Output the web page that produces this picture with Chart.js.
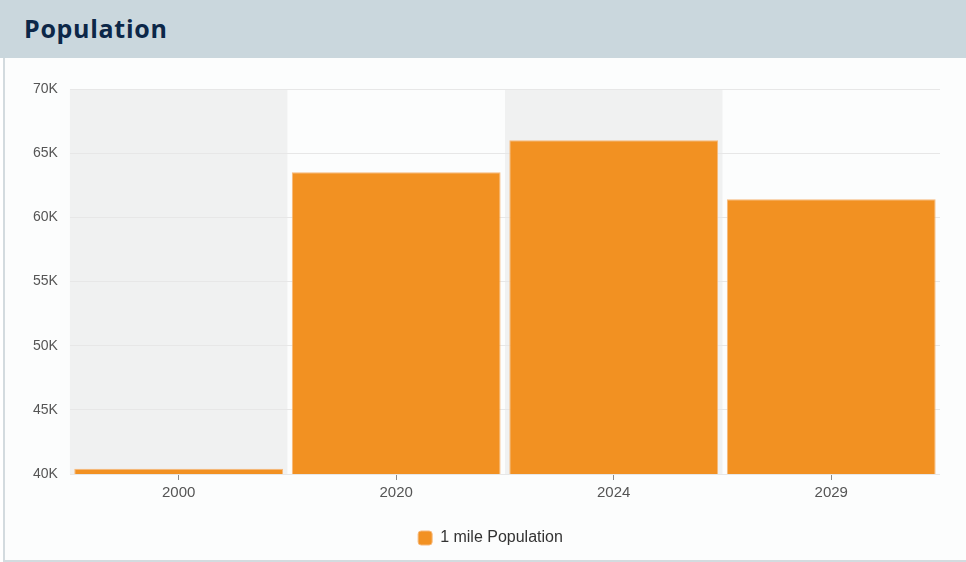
<!DOCTYPE html>
<html>
<head>
<meta charset="utf-8">
<script src="https://cdn.jsdelivr.net/npm/chart.js@4"></script>
<style>
    html, body { margin: 0; padding: 0; background: #ffffff; }
    .header {
        height: 58px;
        background: #cad7dd;
        box-sizing: border-box;
        padding: 0 0 0 24px;
        line-height: 57px;
        font-family: 'Open Sans', sans-serif;
        font-weight: 700;
        font-size: 25px;
        letter-spacing: 0.7px;
        color: #0c2748;
    }
    .panel {
        position: relative;
        width: 963px;
        height: 502px;
        margin-left: 3px;
        border-left: 2px solid #d3dbdf;
        border-bottom: 2px solid #d3dbdf;
        background: #fcfdfd;
    }
    .panel canvas { position: absolute; left: 0; top: 0; }
</style>
</head>
<body>
<div class="header">Population</div>
<div class="panel"><canvas id="popChart" width="961" height="502"></canvas></div>
<script>
const years = ['2000', '2020', '2024', '2029'];
const population = [40400, 63520, 66010, 61410];
const seriesName = '1 mile Population';

document.addEventListener("DOMContentLoaded", function () {
    const ctx = document.getElementById('popChart').getContext('2d');

    // grey bands behind every other year
    const bands = {
        id: 'bands',
        beforeDraw(chart) {
            const { ctx, chartArea, scales: { x } } = chart;
            const step = x.width / years.length;
            ctx.save();
            ctx.fillStyle = '#f0f1f1';
            years.forEach((y, i) => {
                if (i % 2 !== 0) return;
                const cx = x.getPixelForValue(i);
                ctx.fillRect(cx - step / 2, chartArea.top, step, chartArea.bottom - chartArea.top);
            });
            ctx.restore();
        }
    };

    // nudge the legend so it sits under the middle of the whole panel
    const legendShift = {
        id: 'legendShift',
        afterUpdate(chart) {
            chart.legend.left += 10;
            chart.legend.right += 10;
        }
    };

    new Chart(ctx, {
        type: 'bar',
        data: {
            labels: years,
            datasets: [{
                label: seriesName,
                data: population,
                backgroundColor: '#f29122',
                borderColor: '#f6b87a',
                borderWidth: 1,
                barPercentage: 0.96,
                categoryPercentage: 1
            }]
        },
        options: {
            responsive: false,
            animation: false,
            layout: { padding: { left: 16, right: 26, top: 31, bottom: 4 } },
            scales: {
                x: {
                    grid: { offset: false, drawOnChartArea: false, drawTicks: true, tickLength: 6, color: '#8a8a8a' },
                    border: { display: false },
                    ticks: { color: '#555', font: { family: 'Liberation Sans', size: 15 }, padding: 4 },
                    afterFit(scale) { scale.height += 12; }
                },
                y: {
                    min: 40000,
                    max: 70000,
                    grid: { color: '#e7e7e7', drawTicks: false },
                    border: { display: false },
                    ticks: {
                        stepSize: 5000,
                        padding: 12,
                        color: '#555',
                        font: { family: 'Liberation Sans', size: 14 },
                        callback: v => (v / 1000) + 'K'
                    }
                }
            },
            plugins: {
                legend: {
                    position: 'bottom',
                    labels: {
                        useBorderRadius: true,
                        borderRadius: 3,
                        boxWidth: 14,
                        boxHeight: 14,
                        padding: 12,
                        color: '#333',
                        font: { family: 'Liberation Sans', size: 16 }
                    }
                },
                tooltip: { enabled: true }
            }
        },
        plugins: [bands, legendShift]
    });
});
</script>
</body>
</html>
